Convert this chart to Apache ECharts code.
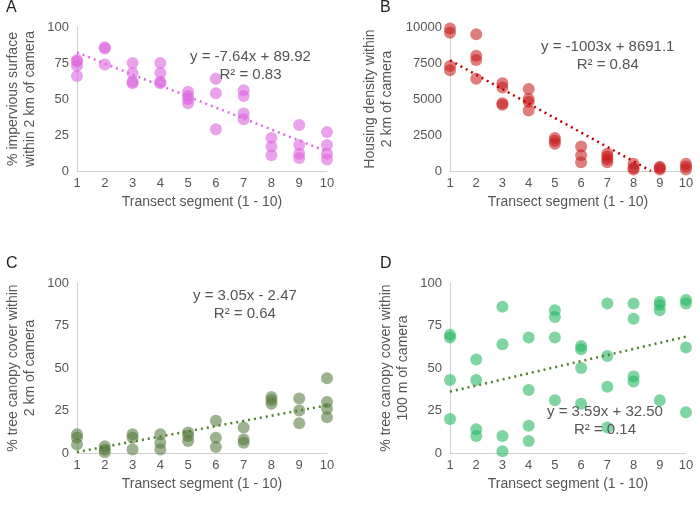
<!DOCTYPE html>
<html><head><meta charset="utf-8">
<script src="https://cdn.jsdelivr.net/npm/echarts@6/dist/echarts.min.js"></script>
<style>html,body{margin:0;background:#fff}#container{width:700px;height:506px}</style>
</head><body><div id="container"></div>
<script>
var segments = [1,2,3,4,5,6,7,8,9,10];
var impervious = [[77,76,73,66],[86,85,74],[75,68,62,61],[75,68,62,61],[55,52,50,47],[64,54,29],[56,52,40,36],[23,17,11],[32,18,12,9],[27,18,12,8]];
var housing = [[9900,9600,7300,7000],[9500,8000,7700,6400],[6100,5800,4700,4600],[5700,5000,4800,4200],[2300,2100,1900],[1700,1100,600],[1200,1000,800,600],[500,200,100],[300,200,100],[500,300,100]];
var canopy2km = [[11,9,5],[4,2,0.5],[11,9,2],[11,6,2],[12,10,7],[19,9,3.5],[15,8,6],[33,31,29],[32,25,17.5],[44,30,26,21]];
var canopy100m = [[69.5,68,43,20],[55,43,14,10],[86,64,10,1],[68,37,16,7],[84,80,68,31],[63,61,50,29],[88,57,39,15],[88,79,45,42],[89,87,84,31],[90,88,62,24]];
var trends = [[-7.64,89.92],[-1003,8691.1],[3.05,-2.47],[3.59,32.50]];
var eqText = ['y = -7.64x + 89.92\nR² = 0.83','y = -1003x + 8691.1\nR² = 0.84','y = 3.05x - 2.47\nR² = 0.64','y = 3.59x + 32.50\nR² = 0.14'];
var yNames = ['% impervious surface\nwithin 2 km of camera','Housing density within\n2 km of camera','% tree canopy cover within\n2 km of camera','% tree canopy cover within\n100 m of camera'];
var letters = ['A','B','C','D'];
var dotColors = ['rgba(221,100,224,0.75)','rgba(200,25,25,0.7)','rgba(80,120,55,0.7)','rgba(40,185,100,0.75)'];
var lineColors = ['#dd6fe0','#c00000','#4f7f2c','#4f7f2c'];
var datasets = [impervious, housing, canopy2km, canopy100m];
var yMax = [100,10000,100,100], yInt = [25,2500,25,25];

var grids = [
  {left:77,top:27,width:250,height:144},
  {left:450,top:27,width:236,height:144},
  {left:77,top:283,width:250,height:170},
  {left:450,top:283,width:236,height:170}
];
var eqPos = [[265,68],[616,58],[268,307],[622,423]];
var letterPos = [[6,0],[380,0],[6,256],[380,256]];
var font = 'Liberation Sans';
var option = {backgroundColor:'#fff', textStyle:{fontFamily:font}, grid:grids, xAxis:[], yAxis:[], series:[], graphic:[]};
for (var i=0;i<4;i++){
  option.xAxis.push({gridIndex:i,type:'value',min:1,max:10,interval:1,
    name:'Transect segment (1 - 10)',nameLocation:'middle',nameGap:24,nameTextStyle:{fontSize:14,color:'#555'},
    axisLine:{lineStyle:{color:'#d0d0d0'}},axisTick:{show:false},splitLine:{show:false},
    axisLabel:{color:'#555',fontSize:13,margin:6}});
  option.yAxis.push({gridIndex:i,type:'value',min:0,max:yMax[i],interval:yInt[i],
    name:yNames[i],nameLocation:'middle',nameGap:i==1?54:38,nameTextStyle:{fontSize:14,color:'#555',lineHeight:17},
    axisLine:{show:true,lineStyle:{color:'#d0d0d0'}},axisTick:{show:false},splitLine:{show:false},
    axisLabel:{color:'#555',fontSize:13,formatter:function(v){return String(v);}}});
  var pts=[];
  datasets[i].forEach(function(vals,k){vals.forEach(function(v){pts.push([segments[k],v]);});});
  option.series.push({type:'scatter',xAxisIndex:i,yAxisIndex:i,data:pts,symbolSize:12,
    itemStyle:{color:dotColors[i]},z:2});
  var m=trends[i][0],b=trends[i][1],line=[];
  var xEnd = (i==1)? -b/m : 10;
  line.push([1,m+b]); line.push([xEnd,m*xEnd+b]);
  option.series.push({type:'line',xAxisIndex:i,yAxisIndex:i,data:line,symbol:'none',silent:true,
    lineStyle:{color:lineColors[i],width:2.5,type:[2,4]},z:3});
  option.graphic.push({type:'text',left:eqPos[i][0]-75,top:eqPos[i][1]-20,z:10,
    style:{text:eqText[i],font:'15px '+font,fill:'#555',align:'center',lineHeight:18,x:75,y:0,textAlign:'center'}});
  option.graphic.push({type:'text',left:letterPos[i][0],top:letterPos[i][1],
    style:{text:letters[i],font:'16px '+font,fill:'#222'}});
}
var myChart = echarts.init(document.getElementById('container'));
myChart.setOption(option);
</script></body></html>
